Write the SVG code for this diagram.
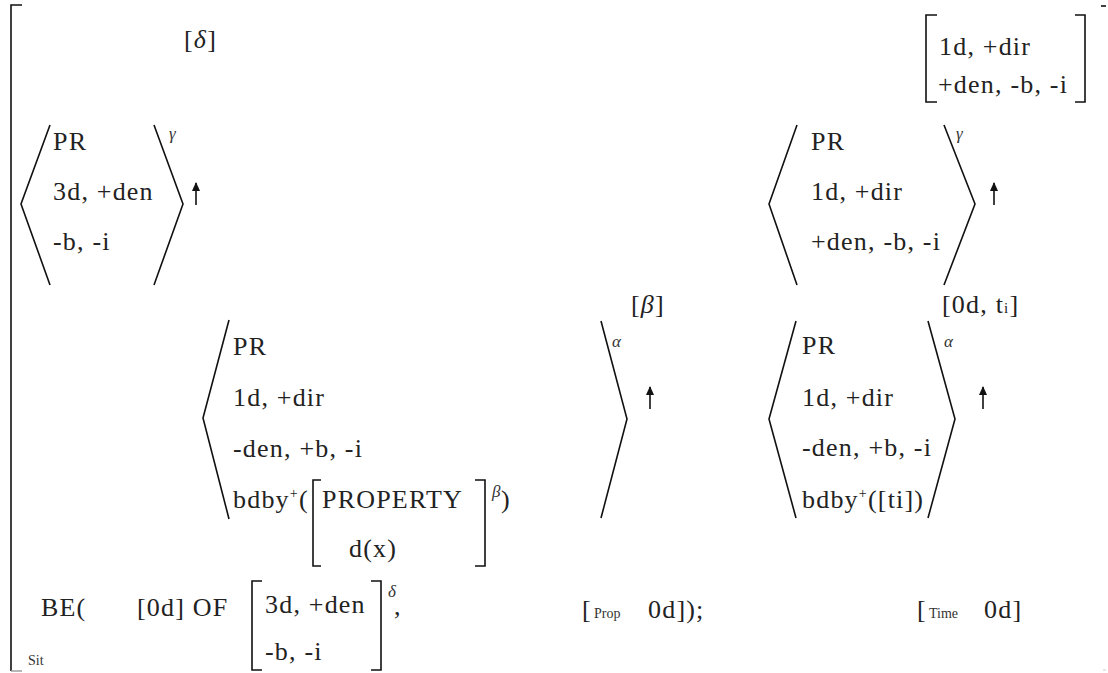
<svg xmlns="http://www.w3.org/2000/svg" width="1108" height="673" viewBox="0 0 1108 673">
  <style>
    .t { font-family: "Liberation Serif", "DejaVu Serif", serif; font-size: 26px; fill: #222; letter-spacing: 1.2px; }
    .sup { font-family: "Liberation Serif", "DejaVu Serif", serif; font-style: italic; font-size: 17px; fill: #333; }
    .sm { font-family: "Liberation Serif", "DejaVu Serif", serif; font-size: 14px; fill: #333; }
    .br { fill: none; stroke: #111; stroke-width: 1.6; stroke-linejoin: miter; }
    .arr { stroke: #111; stroke-width: 1.6; marker-end: url(#head); }
  </style>
  <defs>
    <marker id="head" viewBox="0 0 9 8" refX="8" refY="4" markerWidth="9" markerHeight="8" markerUnits="userSpaceOnUse" orient="auto">
      <path d="M0,0 L9,4 L0,8 Z" fill="#111"/>
    </marker>
  </defs>

  <rect width="1108" height="673" fill="#fff"/>

  <!-- outer situation bracket -->
  <g id="outer">
    <path class="br" d="M22,5 H11 V671"/>
    <path d="M11,671 H22" stroke="#999" stroke-width="1.4"/>
    <path d="M1101,6 H1106" stroke="#111" stroke-width="1.6"/>
    <path d="M1103,670 H1106" stroke="#ccc" stroke-width="1"/>
    <text class="sm" x="28" y="665">Sit</text>
  </g>

  <g id="delta-label">
    <text class="t" x="184" y="48">[<tspan font-style="italic">δ</tspan>]</text>
  </g>

  <!-- speaker feature box, top right -->
  <g id="speaker-box">
    <path class="br" d="M937,15 H926 V102 H937"/>
    <path class="br" d="M1075,15 H1085 V102 H1075"/>
    <text class="t" x="939" y="55">1d, +dir</text>
    <text class="t" x="938" y="93">+den, -b, -i</text>
  </g>

  <!-- gamma, 3rd person -->
  <g id="gamma-left">
    <path class="br" d="M50,125 L21,204 L50,285"/>
    <path class="br" d="M154,125 L183,204 L154,285"/>
    <text class="t" x="53" y="150">PR</text>
    <text class="t" x="53" y="200">3d, +den</text>
    <text class="t" x="53" y="250">-b, -i</text>
    <text class="sup" x="169" y="139">γ</text>
  </g>

  <!-- gamma, 1st person -->
  <g id="gamma-right">
    <path class="br" d="M797,125 L769,204 L797,285"/>
    <path class="br" d="M944,125 L975,204 L944,285"/>
    <text class="t" x="811" y="150">PR</text>
    <text class="t" x="811" y="200">1d, +dir</text>
    <text class="t" x="811" y="250">+den, -b, -i</text>
    <text class="sup" x="956" y="139">γ</text>
  </g>

  <!-- alpha, bounded by property -->
  <g id="alpha-property">
    <path class="br" d="M229,320 L203,418 L229,519"/>
    <path class="br" d="M601,321 L627,419 L601,518"/>
    <text class="t" x="233" y="355">PR</text>
    <text class="t" x="233" y="406">1d, +dir</text>
    <text class="t" x="233" y="457">-den, +b, -i</text>
    <text class="t" x="233" y="508">bdby<tspan font-size="14" dy="-10">+</tspan><tspan dy="10">(</tspan></text>
    <text class="sup" x="612" y="347">α</text>
    <text class="t" x="631" y="313">[<tspan font-style="italic">β</tspan>]</text>
  </g>

  <g id="property-box">
    <path class="br" d="M321,480 H313 V566 H321"/>
    <path class="br" d="M475,480 H485 V566 H475"/>
    <text class="t" x="322" y="508">PROPERTY</text>
    <text class="t" x="349" y="557">d(x)</text>
    <text class="sup" x="492" y="497">β</text>
    <text class="t" x="501" y="508">)</text>
  </g>

  <!-- alpha, bounded by time -->
  <g id="alpha-time">
    <path class="br" d="M796,321 L769,419 L796,518"/>
    <path class="br" d="M928,321 L955,419 L928,518"/>
    <text class="t" x="802" y="354">PR</text>
    <text class="t" x="802" y="406">1d, +dir</text>
    <text class="t" x="802" y="456">-den, +b, -i</text>
    <text class="t" x="802" y="508">bdby<tspan font-size="14" dy="-10">+</tspan><tspan dy="10">([ti])</tspan></text>
    <text class="sup" x="944" y="347">α</text>
    <text class="t" x="942" y="313">[0d, t<tspan font-size="15">i</tspan>]</text>
  </g>

  <!-- BE( ... ) line -->
  <g id="be-line">
    <text class="t" x="41" y="616">BE(</text>
    <text class="t" x="137" y="616">[0d] OF</text>
  </g>

  <g id="theme-box">
    <path class="br" d="M262,581 H252 V670 H262"/>
    <path class="br" d="M371,581 H381 V670 H371"/>
    <text class="t" x="265" y="613">3d, +den</text>
    <text class="t" x="265" y="660">-b, -i</text>
    <text class="sup" x="388" y="597">δ</text>
    <text class="t" x="394" y="615">,</text>
  </g>

  <g id="prop-slot">
    <text class="t" x="582" y="618">[</text>
    <text class="sm" x="594" y="618">Prop</text>
    <text class="t" x="648" y="618">0d]);</text>
  </g>

  <g id="time-slot">
    <text class="t" x="917" y="618">[</text>
    <text class="sm" x="929" y="618">Time</text>
    <text class="t" x="984" y="618">0d]</text>
  </g>

  <!-- upward arrows -->
  <g id="connectors">
    <line class="arr" x1="196" y1="205" x2="196" y2="183"/>
    <line class="arr" x1="994" y1="205" x2="994" y2="183"/>
    <line class="arr" x1="650" y1="409" x2="650" y2="387"/>
    <line class="arr" x1="983" y1="409" x2="983" y2="387"/>
  </g>
</svg>
